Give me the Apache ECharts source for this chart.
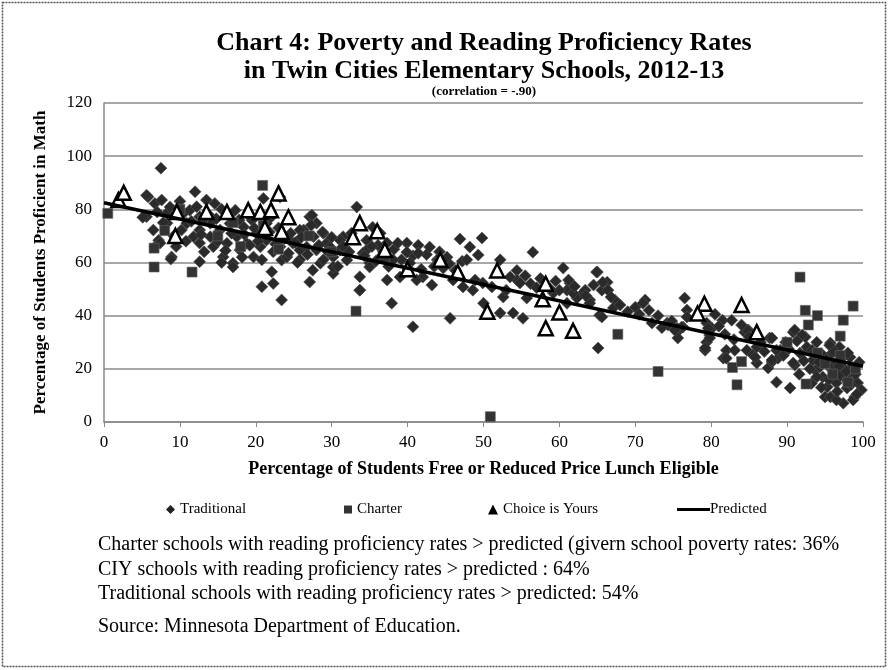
<!DOCTYPE html>
<html>
<head>
<meta charset="utf-8">
<script src="https://cdn.jsdelivr.net/npm/echarts@6/dist/echarts.min.js"></script>
<style>
	html, body { margin: 0; padding: 0; background: #fff; }
	#chart { width: 889px; height: 670px; }
</style>
</head>
<body>
<div id="chart"></div>
<script>
// ---- data ----
var xTicks = [0, 10, 20, 30, 40, 50, 60, 70, 80, 90, 100];
var yTicks = [0, 20, 40, 60, 80, 100, 120];
var seriesNames = ['Traditional', 'Charter', 'Choice is Yours', 'Predicted'];

// traditional schools [free/reduced lunch %, proficient %]
var traditional = [
	[7.5,95.5],[5.8,84.7],[5.6,77.2],[5.1,77],[5.6,85.3],[6.7,82.2],[7.6,83.5],[6.5,72.2],[7.2,68.4],[6.7,65.9],
	[7.4,67.3],[8.3,78.6],[8.7,80.9],[8.3,74.8],[8.9,62.1],[8.8,61.3],[10.5,78.6],[10.2,72.2],[10.9,74.8],[11.3,79.7],
	[11.8,69.7],[12,86.6],[12.6,77.2],[12.6,72.2],[12.6,67.3],[12.6,60.3],[13.5,83.5],[14,74.8],[14,69.7],[14.4,65.9],
	[14.6,82.2],[15.3,72.2],[15.7,62.1],[15.5,60],[16.2,67.2],[16.6,74.7],[17,59.7],[17,58.3],[17.3,79.7],[17.5,69.7],
	[17.9,64.7],[18.4,73.4],[18.8,67.2],[19.5,75.9],[19.7,62.1],[20.1,70.9],[20.6,65.9],[21,84.1],[21.4,74.7],[21.4,68.4],
	[22.3,64],[22.1,56.5],[22.3,52.1],[20.8,50.9],[23.4,45.9],[23.4,60.9],[23.2,65.9],[24.1,62.1],[24.9,67.2],[25.8,64.7],
	[26.3,72.2],[27.1,77.2],[27.6,69.7],[28,64.7],[27.1,52.7],[28.5,59.7],[29.3,67.2],[30.2,62.1],[30.2,55.9],[31.1,64.7],
	[31.5,69.7],[32,60.9],[33.3,80.9],[33.7,54.6],[33.7,49.6],[23.2,84.6],[27.4,77.8],[28,74.8],[25.8,72.2],[28.9,71],
	[24.5,68.4],[26.7,65.8],[29.8,65.8],[31.1,68.4],[31.8,64.7],[28.9,61],[30.2,58.3],[25.8,61],[27.5,57.1],[34.6,68.4],
	[34.1,63.5],[35,59.8],[36.4,62],[37.3,67.3],[35.4,73.3],[36.4,71],[35,58.3],[34.6,64.7],[36.1,66.5],
	[7,79],[7.8,75],[9.2,70],[9.5,66],[10,83],[10.8,68],[11.5,75.5],[12.2,81],[12.8,70.5],[13.2,64],
	[13.8,78],[14.8,76.5],[15,68],[15.5,80],[16,64.5],[16.5,77.5],[16.8,71],[17.8,76],[18.2,62],[18.5,70.5],
	[19,78],[19.2,66.5],[19.8,73],[20.3,68],[20.8,61],[21.8,71.5],[22,77],[22.6,67],[23,73],[23.8,69],
	[24.3,63.5],[24.6,71],[25.2,67.5],[25.5,60],[26,69.5],[26.8,63],[27.3,74],[28.3,66.5],[28.8,71.5],[29.5,64],
	[30,69.5],[30.8,58.5],[31.5,66],[32.3,64],[32.6,71],[34.3,62.5],[35.3,66],[35.8,60.5],[36.8,64],[37.5,58.5],
	[38.2,65],[39.2,61],[40.7,62.5],[41.8,57.5],[42.5,63],[43.5,58.5],[44.2,64],[45.5,59.5],[46.3,57],[47.2,60.5],
	[46.9,68.8],[49.8,69.2],[48.2,65.8],[49.3,62.8],[56.5,63.9],[60.5,57.9],[65,56.4],[66.3,52.6],[65.6,49.6],[67.3,45.9],
	[65.1,27.8],[45.6,39],[40.7,35.8],[37.9,44.7],[50,44.7],[52.2,41],[53.9,41],[55.2,39],[65.3,40.2],[61.4,52.2],
	[63.1,48.5],[52.6,47],[55.7,46.6],[53,49.6],[54.4,57],[54.4,53.4],[43.9,61],[45.2,62],[42,54.5],[43.2,51.5],
	[41.2,53.4],[39,54.5],[37.3,53.4],[38.1,61],[40.3,59.8],[42.9,65.8],[41.4,66.5],[39.9,67.3],[38.7,67.3],[39.9,63.9],
	[41.4,63.5],[44.7,57.9],[47.8,61],[48.9,53.4],[49.9,52.3],[51.1,50.8],[48.6,49.6],[47.3,50.8],[46,53.4],[59.2,48.5],
	[61,49.6],[62.3,46.6],[64,45.9],[33.7,49.6],[52.2,61],[53.5,54.5],[54.8,52.3],[61.2,53.4],[60,49.6],[61.8,48.5],
	[63.4,49.6],[64.9,56.4],[65.7,52.6],[66.4,49.6],[64,44.7],[65.6,39.5],[70,43.2],[71.3,45.9],[72.2,37.2],[74.2,37.2],
	[75.5,35.3],[76.5,46.6],[76.8,42.1],[79.4,37.2],[81.5,38.3],[82.7,38.3],[84.9,34.6],[61,44.7],[67.1,42.9],[71,44.7],
	[74.3,36.5],[75.5,33.8],[75.6,31.6],[76.3,35.7],[76.8,39.5],[76.1,35.7],[75.2,34.6],[79.2,27],[79.4,30],[80.1,35.3],
	[79.8,32.7],[81.6,24],[82,27],[83.1,27],[84.4,33.8],[84.7,27],[85.5,25.2],[86,22.2],[86.4,28.9],[87.7,31.6],
	[87.5,20.3],[88,22.6],[88.6,15],[89.1,27],[88.8,24],[90.4,12.8],[90.8,33.8],[91,21.4],[91.7,25.9],[92.4,32],
	[92.8,27],[93.9,30],[93.4,23.3],[93.7,19.5],[94.3,20.7],[94.7,16.9],[95.3,13.2],[95,9.4],[95.7,29.7],[95.9,25.9],
	[96,22.2],[96.3,18.4],[96.5,14.7],[96.9,28.2],[97.2,24],[97.4,20.3],[97.4,7.1],[97.6,16.5],[97.9,12.8],[98.3,24.4],
	[98.5,20.7],[98.7,16.9],[98.9,9.4],[99.3,14.7],[99.8,12],[98.7,8.3],[94.7,25.2],[93.9,16.9],[95.7,9.4],[96.5,8.3],
	[55.5,55],[56.2,52],[57,50.5],[57.5,54],[58.8,50],[59.5,53],[62,51],[63.5,47.5],[64.5,51.5],[66.8,47],
	[68,44],[69,41.5],[70.5,40.5],[71.8,42],[73,40],[73.5,35.5],[74.8,38],[79.6,35.3],[79.8,31.6],[79.2,27.8],
	[82,24],[84.7,34.6],[85.8,24.4],[86,28.2],[88,31.6],[88.6,27],[88,23.3],[90.8,22.2],[91,34.6],[92,32.7],
	[92.6,28.2],[93.3,27],[95.6,28.9],[80.5,40.5],[81,36],[81.8,33],[83,31],[84,36.5],[85,32],[86.5,30],
	[87,26.5],[89.5,25],[89.8,30],[90.2,27.5],[91.3,30.5],[91.6,18],[92.2,23],[93,20],[93.6,26],[94.2,22.5],
	[95.2,23.5],[95.5,16],[95.8,20],[96.2,26.5],[96.6,11.5],[96.8,21],[97,17.5],[97.8,19],[98,26],[98.4,14],
	[99,18],[99.5,22.5],[99.2,10.5],[94.5,13],[93.2,14.5]
];

// charter schools
var charter = [
	[0.5,78.5],[6.6,58.3],[6.6,65.4],[20.9,89],[11.6,56.4],[33.2,41.7],[50.9,2],[67.7,33],[73,19],[91.7,54.5],
	[92.4,42],[94,40],[92.8,36.5],[98.7,43.6],[97.4,38.3],[97,32.3],[83.4,14],[92.5,14.3],[82.8,20.5],[84,22.7],
	[8,72],[10,80],[13,76],[15,70],[17,75],[18,66],[21,74],[23,65],[27,70],[30,64],[37,62],[40,57],[44,60],
	[95,22],[96,18],[97,25],[98,15],[99,20],[94,26],[90,30]
];

// Choice is Yours schools
var choiceIsYours = [
	[1.9,83.5],[2.6,86.2],[9.6,79],[9.4,70],[13.5,79],[16.2,79],[19,79.7],[20.6,79],[22,79.7],[23,86],
	[24.3,77],[21.2,73],[23.4,71.5],[33.7,74.8],[36,71.8],[32.8,69.5],[37,64.7],[40,57.5],[44.3,61],[46.6,56.4],
	[51.8,57],[50.5,41.5],[58.2,52],[57.8,46.2],[60,41.2],[58.2,35.3],[61.8,34.3],[79.1,44.5],[78.2,40.8],[84,44],
	[86,33.8]
];

// predicted (regression) line
var predictedX = [0, 100];
var predictedY = [82.5, 21];

var chart = echarts.init(document.getElementById('chart'));
var serif = '"Liberation Serif", "Times New Roman", serif';
var legendText = { fontFamily: serif, fontSize: 15, color: '#000' };

function noteText(y, text) {
	return {
		type: 'text', x: 98, y: y,
		style: { text: text, font: '20px ' + serif, fill: '#000', verticalAlign: 'middle' }
	};
}

var option = {
	backgroundColor: '#fff',
	animation: false,
	textStyle: { fontFamily: serif, color: '#000' },
	graphic: [
		{
			type: 'rect',
			shape: { x: 2.5, y: 2.5, width: 883, height: 664 },
			style: { fill: 'none', stroke: '#555', lineWidth: 1.5, lineDash: [2, 1] },
			silent: true
		},
		{
			type: 'text', x: 484, y: 43,
			style: { text: 'Chart 4: Poverty and Reading Proficiency Rates', font: 'bold 26px ' + serif, fill: '#000', align: 'center', verticalAlign: 'middle' }
		},
		{
			type: 'text', x: 484, y: 71,
			style: { text: 'in Twin Cities Elementary Schools, 2012-13', font: 'bold 26px ' + serif, fill: '#000', align: 'center', verticalAlign: 'middle' }
		},
		{
			type: 'text', x: 484, y: 92,
			style: { text: '(correlation = -.90)', font: 'bold 13px ' + serif, fill: '#000', align: 'center', verticalAlign: 'middle' }
		},
		noteText(545, 'Charter schools with reading proficiency rates > predicted (givern school poverty rates: 36%'),
		noteText(570, 'CIY schools with reading proficiency rates > predicted : 64%'),
		noteText(594, 'Traditional schools with reading proficiency rates > predicted: 54%'),
		noteText(627, 'Source: Minnesota Department of Education.')
	],
	legend: [{
		data: [{ name: seriesNames[0], icon: 'diamond', itemStyle: { color: '#222', borderWidth: 0, opacity: 1 } }],
		left: 161, top: 497, itemWidth: 9, itemHeight: 9, itemGap: 8,
		textStyle: legendText
	}, {
		data: [{ name: seriesNames[1], icon: 'rect', itemStyle: { color: '#333', borderWidth: 0, opacity: 1 } }],
		left: 339, top: 497, itemWidth: 8, itemHeight: 8, itemGap: 8,
		textStyle: legendText
	}, {
		data: [{ name: seriesNames[2], icon: 'triangle', itemStyle: { color: '#000', borderWidth: 0, opacity: 1 } }],
		left: 483, top: 497, itemWidth: 10, itemHeight: 10, itemGap: 8,
		textStyle: legendText
	}, {
		data: [{ name: seriesNames[3], icon: 'rect', itemStyle: { color: '#000' } }],
		left: 672, top: 497, itemWidth: 33, itemHeight: 3, itemGap: 0,
		textStyle: Object.assign({}, legendText, { padding: [0, 0, 0, -5] })
	}],
	grid: {
		left: 104,
		right: 26,
		top: 103,
		bottom: 248
	},
	xAxis: {
		type: 'value',
		min: xTicks[0],
		max: xTicks[xTicks.length - 1],
		interval: 10,
		name: 'Percentage of Students Free or Reduced Price Lunch Eligible',
		nameLocation: 'middle',
		nameGap: 38,
		nameTextStyle: { fontFamily: serif, fontWeight: 'bold', fontSize: 18, color: '#000' },
		axisLine: { show: true, lineStyle: { color: '#888', width: 1.5, type: [3, 1] } },
		axisTick: { show: true, length: 5, lineStyle: { color: '#888' } },
		axisLabel: { fontFamily: serif, fontSize: 17, color: '#000', margin: 12 },
		splitLine: { show: false }
	},
	yAxis: {
		type: 'value',
		min: yTicks[0],
		max: yTicks[yTicks.length - 1],
		interval: 20,
		name: 'Percentage of Students Proficient in Math',
		nameLocation: 'middle',
		nameGap: 55,
		nameTextStyle: { fontFamily: serif, fontWeight: 'bold', fontSize: 17, color: '#000' },
		axisLine: { show: true, lineStyle: { color: '#888', width: 1.5 } },
		axisTick: { show: false },
		axisLabel: { fontFamily: serif, fontSize: 17, color: '#000', margin: 12 },
		splitLine: { show: true, lineStyle: { color: '#8a8a8a', width: 1.5 } }
	},
	series: [{
		name: seriesNames[0],
		type: 'scatter',
		symbol: 'diamond',
		symbolSize: 12,
		itemStyle: { color: '#2a2a2a', borderColor: '#555', borderWidth: 0.6, opacity: 1 },
		data: traditional
	}, {
		name: seriesNames[1],
		type: 'scatter',
		symbol: 'rect',
		symbolSize: 10,
		itemStyle: { color: '#333', borderColor: '#666', borderWidth: 0.6, opacity: 1 },
		data: charter
	}, {
		name: seriesNames[3],
		type: 'line',
		showSymbol: false,
		lineStyle: { color: '#000', width: 3.5 },
		itemStyle: { color: '#000' },
		data: predictedX.map(function (x, i) { return [x, predictedY[i]]; })
	}, {
		name: seriesNames[2],
		type: 'scatter',
		symbol: 'triangle',
		symbolSize: 14,
		itemStyle: { color: '#fff', borderColor: '#000', borderWidth: 2.5, opacity: 1 },
		data: choiceIsYours
	}]
};

chart.setOption(option);
</script>
</body>
</html>
